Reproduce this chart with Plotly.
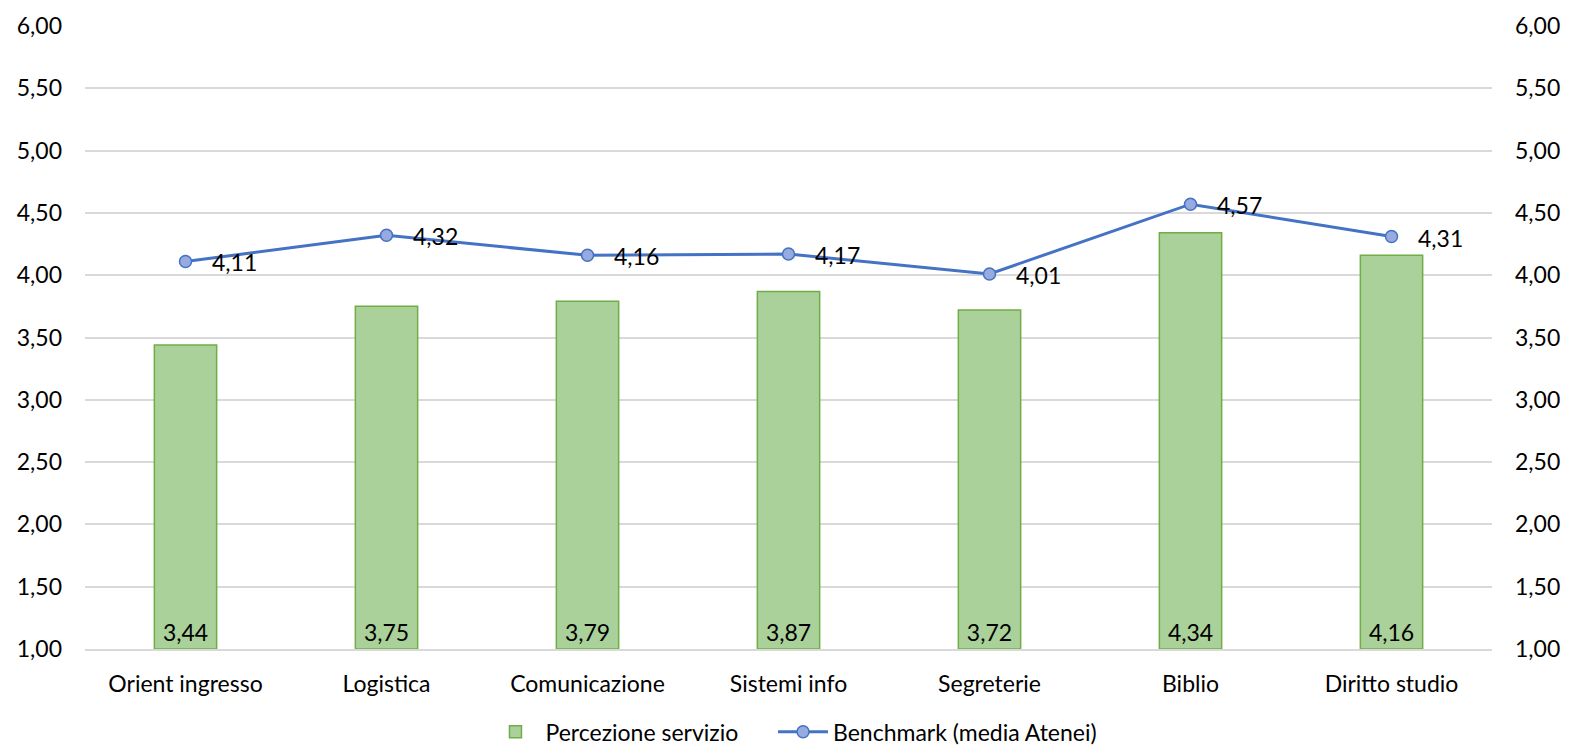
import plotly.graph_objects as go

categories = ["Orient ingresso", "Logistica", "Comunicazione", "Sistemi info", "Segreterie", "Biblio", "Diritto studio"]
percezione = [3.44, 3.75, 3.79, 3.87, 3.72, 4.34, 4.16]
benchmark = [4.11, 4.32, 4.16, 4.17, 4.01, 4.57, 4.31]
tick_vals = [1.0, 1.5, 2.0, 2.5, 3.0, 3.5, 4.0, 4.5, 5.0, 5.5, 6.0]
axis_min, axis_max = 1.0, 6.0

FONT = "Lato, Carlito, sans-serif"
FS = 23

def fmt(v):
    return f"{v:.2f}".replace(".", ",")

fig = go.Figure()
fig.add_trace(go.Bar(
    x=categories, y=[v - axis_min for v in percezione], base=axis_min,
    name="Percezione servizio",
    marker=dict(color="#aad199", line=dict(color="#70ad47", width=1.5)),
    text=[fmt(v) for v in percezione],
    textposition="inside", insidetextanchor="start", textangle=0,
    textfont=dict(size=FS, color="black", family=FONT),
    hovertext=[fmt(v) for v in percezione], hoverinfo="x+text",
    yaxis="y", legend="legend",
))
fig.add_trace(go.Scatter(
    x=categories, y=benchmark, name="Benchmark (media Atenei)",
    mode="lines+markers",
    line=dict(color="#4472c4", width=3),
    marker=dict(size=12, color="#97abde", line=dict(color="#4472c4", width=1.5)),
    yaxis="y2", cliponaxis=False, legend="legend2",
))
for c, v in zip(categories, benchmark):
    fig.add_annotation(x=c, y=v, xref="x", yref="y2", text=fmt(v), showarrow=False,
                       xanchor="left", yanchor="middle", xshift=24, yshift=-1,
                       font=dict(size=FS, color="black", family=FONT))

axis_common = dict(range=[axis_min, axis_max], tickvals=tick_vals, tickformat=".2f",
                   tickfont=dict(size=FS, color="black", family=FONT),
                   zeroline=False, fixedrange=True, automargin=False, ticks="")
legend_common = dict(orientation="h", y=-0.133, yanchor="middle",
                     font=dict(size=FS, color="black", family=FONT), itemwidth=50,
                     bgcolor="rgba(0,0,0,0)")
fig.update_layout(
    width=1570, height=745,
    margin=dict(l=85, r=78, t=26, b=96, autoexpand=False),
    paper_bgcolor="white", plot_bgcolor="white",
    separators=",.",
    bargap=0.69,
    font=dict(family=FONT, size=FS, color="black"),
    xaxis=dict(tickfont=dict(size=FS, color="black", family=FONT), showline=True,
               linecolor="#d9d9d9", linewidth=1.5, ticks="", automargin=False,
               ticklabelstandoff=14),
    yaxis=dict(**axis_common, showgrid=True, gridcolor="#d9d9d9", gridwidth=1.5, ticklabelstandoff=22),
    yaxis2=dict(**axis_common, overlaying="y", side="right", showgrid=False, ticklabelstandoff=22),
    legend=dict(**legend_common, x=0.468, xanchor="right"),
    legend2=dict(**legend_common, x=0.489, xanchor="left"),
    showlegend=True,
)
fig.write_html("out.html", config={"displayModeBar": False},
               post_script="document.body.style.margin='0';")
